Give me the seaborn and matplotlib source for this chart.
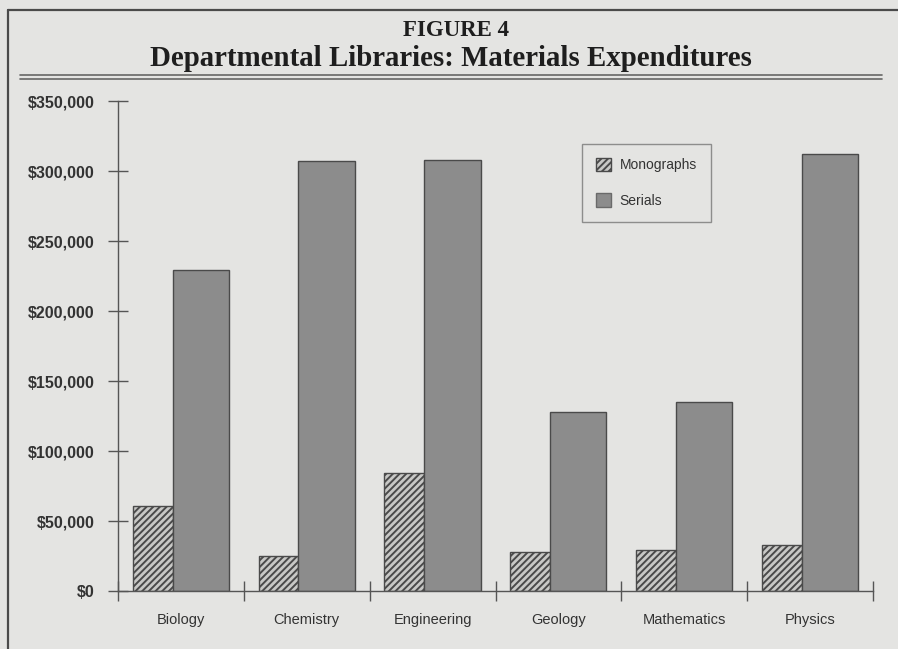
import matplotlib
matplotlib.use("Agg")
import matplotlib.pyplot as plt
from matplotlib.lines import Line2D
from matplotlib.patches import Patch
from matplotlib.ticker import FuncFormatter, FixedLocator
import seaborn as sns
import pandas as pd

# Departmental library spending
departments = ["Biology", "Chemistry", "Engineering", "Geology", "Mathematics", "Physics"]
monographs = [61000, 25000, 84000, 28000, 29000, 33000]
serials = [229000, 307000, 308000, 128000, 135000, 312000]
series_names = ["Monographs", "Serials"]
y_ticks = [0, 50000, 100000, 150000, 200000, 250000, 300000, 350000]

paper = "#e4e4e2"
ink = "#333333"

df = pd.DataFrame({
    "department": departments * 2,
    "type": [series_names[0]] * len(departments) + [series_names[1]] * len(departments),
    "amount": monographs + serials,
})

sns.set_style("white")
plt.rcParams["font.family"] = ["Liberation Sans", "DejaVu Sans"]
plt.rcParams["hatch.linewidth"] = 1.4
plt.rcParams["hatch.color"] = "#2a2a2a"

fig = plt.figure(figsize=(8.98, 6.49), dpi=100, facecolor=paper)
ax = fig.add_axes([118 / 898, 1 - 591 / 649, 755 / 898, 490 / 649])
ax.set_facecolor(paper)

sns.barplot(data=df, x="department", y="amount", hue="type",
            palette=["#c8c8c6", "#8c8c8c"], edgecolor="#4a4a4a", linewidth=1.0,
            legend=False, ax=ax)

# monographs narrower than serials, as in the original
for i, bar in enumerate(ax.containers[0]):
    bar.set_x(i - 0.383)
    bar.set_width(0.317)
    bar.set_hatch("/////")
for i, bar in enumerate(ax.containers[1]):
    bar.set_x(i - 0.066)
    bar.set_width(0.447)

ax.set_xlim(-0.5, len(departments) - 0.5)
ax.set_ylim(0, 350000)
ax.set_yticks(y_ticks)
ax.yaxis.set_major_formatter(FuncFormatter(lambda v, p: f"${v:,.0f}"))

# tick marks at category boundaries, names at centres
ax.xaxis.set_major_locator(FixedLocator([i - 0.5 for i in range(len(departments) + 1)]))
ax.xaxis.set_minor_locator(FixedLocator(list(range(len(departments)))))
ax.set_xticklabels([""] * (len(departments) + 1))
ax.set_xticklabels(departments, minor=True)
ax.tick_params(axis="x", which="major", bottom=True, direction="inout", length=14,
               width=1.0, color="#555555")
ax.tick_params(axis="x", which="minor", bottom=True, length=0, pad=16, labelsize=10.5,
               labelcolor=ink)
ax.tick_params(axis="y", left=True, direction="inout", length=14, width=1.0, color="#555555",
               pad=10, labelsize=11.5, labelcolor=ink)
for lab in ax.get_yticklabels():
    lab.set_fontweight("bold")

for side in ["top", "right"]:
    ax.spines[side].set_visible(False)
for side in ["left", "bottom"]:
    ax.spines[side].set_color("#555555")
    ax.spines[side].set_linewidth(1.0)
ax.set_xlabel("")
ax.set_ylabel("")

handles = [Patch(facecolor="#c8c8c6", edgecolor="#4a4a4a", hatch="/////", label=series_names[0]),
           Patch(facecolor="#8c8c8c", edgecolor="#6a6a6a", label=series_names[1])]
leg = ax.legend(handles=handles, loc="upper left", bbox_to_anchor=(0.6146, 0.912),
                borderaxespad=0, frameon=True, fancybox=False, handlelength=1.1,
                handleheight=1.1, labelspacing=1.5, borderpad=1.0, handletextpad=0.6,
                fontsize=10)
leg.get_frame().set_facecolor(paper)
leg.get_frame().set_edgecolor("#777777")
leg.get_frame().set_linewidth(1.0)
for t in leg.get_texts():
    t.set_color(ink)

# page frame and rules
frame = "#4a4a4a"
fig.add_artist(Line2D([8 / 898, 1], [1 - 10 / 649] * 2, transform=fig.transFigure, color=frame, lw=1.6))
fig.add_artist(Line2D([8 / 898] * 2, [0, 1 - 10 / 649], transform=fig.transFigure, color=frame, lw=1.6))
for yy in (75, 79):
    fig.add_artist(Line2D([20 / 898, 882 / 898], [1 - yy / 649] * 2, transform=fig.transFigure,
                          color="#666666", lw=1.2))

fig.text(0.508, 1 - 30 / 649, "FIGURE 4", ha="center", va="center", fontsize=16.5,
         fontweight="bold", family="Liberation Serif", color="#1e1e1e")
fig.text(0.502, 1 - 58 / 649, "Departmental Libraries: Materials Expenditures", ha="center",
         va="center", fontsize=20.8, fontweight="bold", family="Liberation Serif", color="#1e1e1e")

fig.savefig("out.png", dpi=100, facecolor=paper)
